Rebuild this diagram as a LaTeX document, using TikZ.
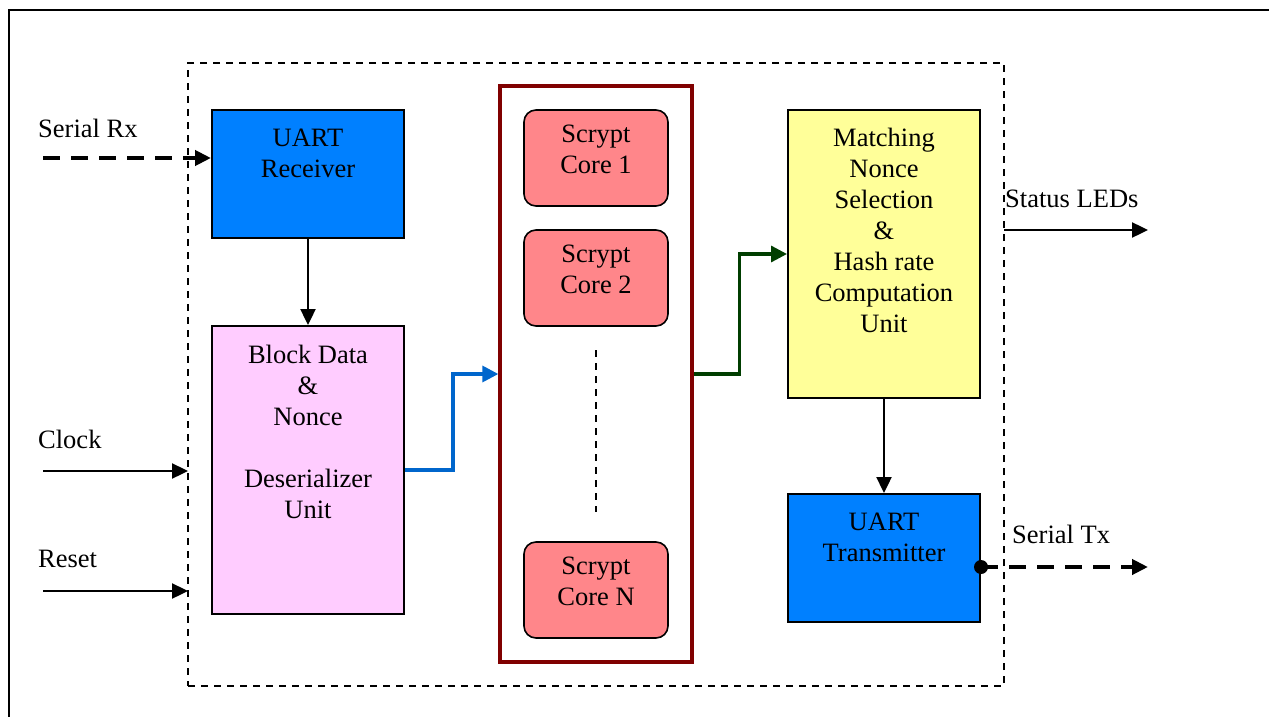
\documentclass[tikz,border=0pt]{standalone}
\usepackage{fontspec}
\setmainfont{Liberation Serif}
\usetikzlibrary{arrows.meta,calc}

\definecolor{uartblue}{RGB}{0,128,255}
\definecolor{deserpink}{RGB}{255,204,255}
\definecolor{matchyellow}{RGB}{255,255,153}
\definecolor{corered}{RGB}{255,134,138}
\definecolor{arraymaroon}{RGB}{128,0,0}
\definecolor{flowblue}{RGB}{0,102,204}
\definecolor{flowgreen}{RGB}{0,62,0}

\begin{document}
\begin{tikzpicture}[x=1pt,y=-1pt,
  txt/.style={font=\fontsize{26.5}{31}\selectfont, inner sep=0pt, align=center},
  unit/.style={draw=black, line width=2pt, inner sep=0pt, minimum width=192pt},
  core/.style={draw=black, line width=1.6pt, fill=corered, rounded corners=12pt,
               inner sep=0pt, minimum width=144pt, minimum height=96pt},
  sig/.style={line width=2.4pt, -{Triangle[length=16pt,width=15pt]}},
  dsig/.style={line width=4pt, dash pattern=on 17pt off 11pt,
               -{Triangle[length=16pt,width=15pt]}},
  flow/.style={line width=3.3pt, -{Triangle[length=16pt,width=16pt]}},
  dotend/.style={circle, fill=black, inner sep=0pt, minimum size=14pt}
]
\useasboundingbox (0,0) rectangle (1269,717);

% page frame
\draw[line width=2.6pt] (9,717) -- (9,10) -- (1280,10);

% FPGA boundary
\node[draw=black, line width=1.5pt, dash pattern=on 7pt off 6pt,
      minimum width=816pt, minimum height=623pt, inner sep=0pt] (chip) at (596,374.5) {};

% functional units
\node[unit, fill=uartblue, minimum height=128pt] (rx) at (308,174) {};
\node[txt, anchor=north] (rxt) at (308,129) {UART\\Receiver};

\node[unit, fill=deserpink, minimum height=288pt] (blk) at (308,470) {};
\node[txt, anchor=north] (blkt) at (308,345) {Block Data\\\&\\Nonce\\[31pt]Deserializer\\Unit};

\node[draw=arraymaroon, line width=3.3pt, inner sep=0pt,
      minimum width=192pt, minimum height=576pt] (scr) at (596,374) {};
\node[core] (c1) at (596,158) {};
\node[txt, anchor=north] (c1t) at (596,124.5) {Scrypt\\Core 1};
\node[core] (c2) at (596,278) {};
\node[txt, anchor=north] (c2t) at (596,244.5) {Scrypt\\Core 2};
\node[core] (cn) at (596,590) {};
\node[txt, anchor=north] (cnt) at (596,556.5) {Scrypt\\Core N};
\coordinate (gapa) at (596,350);
\coordinate (gapb) at (596,512);
\draw[line width=1.4pt, dash pattern=on 7pt off 6pt] (gapa) -- (gapb);

\node[unit, fill=matchyellow, minimum height=288pt] (yel) at (884,254) {};
\node[txt, anchor=north] (yelt) at (884,128) {Matching\\Nonce\\Selection\\\&\\Hash rate\\Computation\\Unit};

\node[unit, fill=uartblue, minimum height=128pt] (tx) at (884,558) {};
\node[txt, anchor=north] (txt) at (884,513) {UART\\Transmitter};

% external signals
\node[txt, anchor=base west] (lrx) at (38,137) {Serial Rx};
\node[txt, anchor=base west] (lclk) at (38,448) {Clock};
\node[txt, anchor=base west] (lrst) at (38,567) {Reset};
\node[txt, anchor=base west] (lled) at (1005,207) {Status LEDs};
\node[txt, anchor=base west] (ltx) at (1012,543) {Serial Tx};

\coordinate (rxin) at (43,158);
\coordinate (clkin) at (43,471);
\coordinate (clkpin) at (188,471);
\coordinate (rstin) at (43,591);
\coordinate (rstpin) at (188,591);
\coordinate (ledpin) at (1004,230);
\coordinate (ledout) at (1148,230);
\coordinate (txrow) at (0,567);
\coordinate (txout) at (1148,567);

\draw[dsig] (rxin) -- (rxin -| rx.west);
\draw[sig] (clkin) -- (clkpin);
\draw[sig] (rstin) -- (rstpin);
\draw[sig] (ledpin) -- (ledout);
\node[dotend] (txd) at (tx.east |- txrow) {};
\draw[dsig] (txd.center) -- (txout);

% internal data path
\draw[sig] (rx.south) -- (blk.north);
\draw[sig] (yel.south) -- (tx.north);
\draw[flow, draw=flowblue] (blk.east) -- ++(48,0) |- (scr.west);
\draw[flow, draw=flowgreen] (scr.east) -- ++(46,0) |- (yel.west);
\end{tikzpicture}
\end{document}
